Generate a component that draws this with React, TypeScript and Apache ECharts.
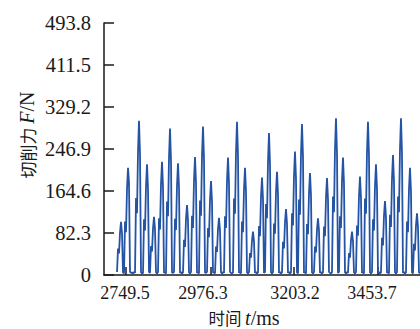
import React, { useEffect, useRef } from "react";
import * as echarts from "echarts";

// Cutting force samples (N), one sample every sampleStepMs starting at sampleStartMs
const sampleStartMs = 2724.35;
const sampleStepMs = 2.7944;
const forceSamples = [
  6, 52, 42, 83, 104, 81, 5, 3,
  105, 84, 168, 210, 180, 6, 4, 5, 3,
  6, 4, 151, 121, 242, 302, 236, 5, 3, 4,
  109, 87, 174, 217, 169, 6, 4,
  57, 46, 91, 114, 89, 5, 3, 6,
  111, 89, 178, 222, 173, 4, 6, 3,
  144, 115, 230, 287, 224, 5, 4, 6,
  110, 88, 175, 219, 171, 4, 6, 3, 5,
  69, 55, 110, 137, 107, 5, 3, 6,
  116, 92, 185, 231, 180, 4, 6, 3,
  146, 116, 233, 291, 227, 5, 4, 6,
  92, 74, 147, 184, 144, 4, 6, 3,
  56, 45, 90, 112, 87, 5, 3, 6, 4,
  115, 92, 184, 230, 179, 6, 4, 3, 5,
  150, 120, 240, 300, 234, 4, 6, 3,
  105, 84, 168, 210, 164, 5, 3, 6,
  43, 34, 68, 85, 66, 4, 6, 3, 5,
  96, 76, 153, 191, 149, 4, 6,
  139, 111, 222, 278, 217, 5, 3, 6,
  101, 81, 162, 202, 158, 4, 6, 3, 5,
  65, 52, 103, 129, 101, 4, 6, 3, 5,
  121, 97, 194, 242, 189, 5, 3,
  148, 118, 237, 296, 231, 4, 6, 3,
  100, 80, 160, 200, 156, 5, 3, 6,
  56, 44, 89, 111, 87, 4, 6, 3, 5,
  95, 76, 152, 190, 148, 6, 4, 3, 5,
  154, 123, 246, 307, 239, 4, 6,
  115, 92, 184, 230, 179, 5, 3, 6, 4,
  43, 34, 68, 85, 66, 5, 3, 6,
  97, 77, 154, 193, 151, 4, 6, 3,
  150, 120, 240, 300, 234, 5, 3, 6,
  109, 87, 174, 217, 169, 4, 6, 3, 5,
  73, 58, 116, 145, 113, 4, 6, 3,
  118, 94, 188, 235, 183, 5, 3, 6,
  154, 123, 246, 307, 239, 4, 6, 3, 5,
  105, 84, 168, 210, 164, 5, 3,
  61, 48, 97, 121, 94, 5, 3,
];

// Axis definitions
const xMin = 2688.0;
const xMax = 3571.1;
const xTickTimes = [2749.5, 2987.0, 3219.0, 3453.7];
const xLabelTimes = [2746.7, 2964.7, 3221.8, 3436.9];
const xTickLabels = ["2749.5", "2976.3", "3203.2", "3453.7"];

const yMin = 0;
const yMax = 493.8;
const yInterval = 82.3;
const yTickLabels = ["0", "82.3", "164.6", "246.9", "329.2", "411.5", "493.8"];

const SERIF = "'Liberation Serif', 'Times New Roman', serif";
const CJK = "'Noto Sans CJK SC', 'Liberation Serif', serif";
const INK = "#1a1a1a";

export default function App() {
  const ref = useRef<HTMLDivElement>(null);

  useEffect(() => {
    if (!ref.current) return;
    const chart = echarts.init(ref.current, undefined, { renderer: "svg" });
    const data = forceSamples.map((v, i) => [sampleStartMs + i * sampleStepMs, v]);

    chart.setOption({
      animation: false,
      backgroundColor: "#ffffff",
      grid: { left: 104, right: 0, top: 23, bottom: 54, containLabel: false },
      xAxis: {
        type: "value",
        min: xMin,
        max: xMax,
        axisLine: { show: true, lineStyle: { color: INK, width: 1.5 } },
        axisTick: {
          show: true,
          inside: true,
          length: 8,
          customValues: xTickTimes,
          lineStyle: { color: INK, width: 1.5 },
        },
        axisLabel: {
          show: true,
          customValues: xLabelTimes,
          margin: 9,
          color: INK,
          fontFamily: SERIF,
          fontSize: 18,
          formatter: (val: number) => {
            let best = 0;
            for (let i = 1; i < xLabelTimes.length; i++) {
              if (Math.abs(xLabelTimes[i] - val) < Math.abs(xLabelTimes[best] - val)) best = i;
            }
            return xTickLabels[best];
          },
        },
        splitLine: { show: false },
      },
      yAxis: {
        type: "value",
        min: yMin,
        max: yMax,
        interval: yInterval,
        axisLine: { show: true, lineStyle: { color: INK, width: 1.5 } },
        axisTick: { show: true, inside: true, length: 10, lineStyle: { color: INK, width: 1.5 } },
        axisLabel: {
          margin: 13,
          color: INK,
          fontFamily: SERIF,
          fontSize: 20.5,
          formatter: (val: number) => yTickLabels[Math.round(val / yInterval)] ?? "",
        },
        splitLine: { show: false },
      },
      graphic: [
        {
          type: "text",
          x: 27,
          y: 135,
          rotation: Math.PI / 2,
          style: {
            text: "{c|切削力 }{i|F}{n|/N}",
            fill: INK,
            align: "center",
            verticalAlign: "middle",
            rich: {
              c: { fontFamily: CJK, fontSize: 17, lineHeight: 18, fill: INK },
              i: { fontStyle: "italic", fontFamily: SERIF, fontSize: 20, lineHeight: 18, fill: INK },
              n: { fontFamily: SERIF, fontSize: 20, lineHeight: 18, fill: INK },
            },
          },
        },
        {
          type: "text",
          x: 244,
          y: 318,
          style: {
            text: "{c|时间 }{i|t}{n|/ms}",
            fill: INK,
            align: "center",
            verticalAlign: "middle",
            rich: {
              c: { fontFamily: CJK, fontSize: 16.5, lineHeight: 16, fill: INK },
              i: { fontStyle: "italic", fontFamily: SERIF, fontSize: 20, lineHeight: 16, fill: INK },
              n: { fontFamily: SERIF, fontSize: 20, lineHeight: 16, fill: INK },
            },
          },
        },
      ],
      series: [
        {
          type: "line",
          data,
          showSymbol: false,
          clip: true,
          lineStyle: { color: "#2554a5", width: 1.8 },
          itemStyle: { color: "#2554a5" },
        },
      ],
    });

    return () => chart.dispose();
  }, []);

  return (
    <div
      ref={ref}
      style={{ position: "fixed", left: 0, top: 0, width: 420, height: 329, background: "#fff" }}
    />
  );
}
